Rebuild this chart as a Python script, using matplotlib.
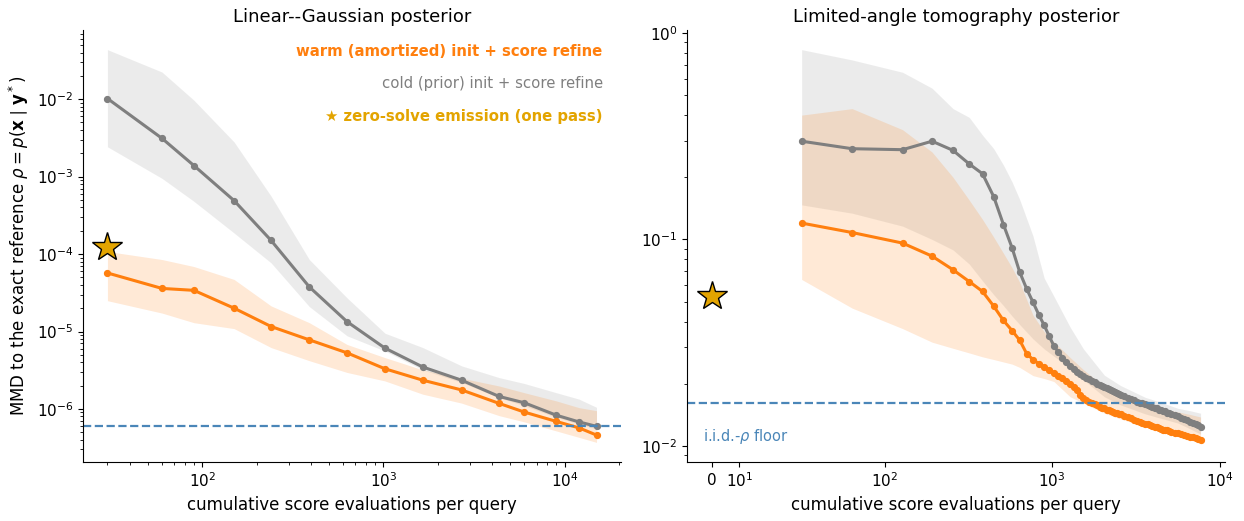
import numpy as np
import matplotlib.pyplot as plt

# ---- Linear--Gaussian panel ----
lg_evals = [30, 60, 90, 150, 240, 390, 630, 1020, 1650, 2700, 4350, 6000, 9000, 12000, 15000]
lg_warm = [5.7e-5, 3.6e-5, 3.4e-5, 2.0e-5, 1.16e-5, 7.8e-6, 5.3e-6, 3.3e-6, 2.35e-6,
           1.76e-6, 1.18e-6, 9.1e-7, 6.9e-7, 5.7e-7, 4.6e-7]
lg_warm_lo = [2.5e-5, 1.73e-5, 1.3e-5, 1.09e-5, 6.2e-6, 4.2e-6, 2.96e-6, 2.3e-6, 1.55e-6,
              1.19e-6, 8.2e-7, 6.8e-7, 5.2e-7, 4.3e-7, 3.7e-7]
lg_warm_hi = [1.08e-4, 8.5e-5, 6.9e-5, 4.7e-5, 2.14e-5, 1.3e-5, 6.8e-6, 4.6e-6, 3.2e-6,
              2.5e-6, 1.98e-6, 1.62e-6, 1.27e-6, 1.04e-6, 9.5e-7]
lg_cold = [1.02e-2, 3.12e-3, 1.39e-3, 4.9e-4, 1.5e-4, 3.77e-5, 1.34e-5, 6.1e-6, 3.48e-6,
           2.35e-6, 1.45e-6, 1.2e-6, 8.3e-7, 6.8e-7, 5.96e-7]
lg_cold_lo = [2.43e-3, 9.5e-4, 4.8e-4, 1.87e-4, 7.7e-5, 2.1e-5, 8.8e-6, 5.6e-6, 3.2e-6,
              2.2e-6, 1.4e-6, 1.1e-6, 7.8e-7, 6.4e-7, 5.5e-7]
lg_cold_hi = [4.36e-2, 2.24e-2, 9.7e-3, 2.8e-3, 5.6e-4, 8.5e-5, 2.72e-5, 9.5e-6, 6.2e-6,
              3.6e-6, 2.54e-6, 2.13e-6, 1.62e-6, 1.34e-6, 1.05e-6]
lg_zero_solve = 1.25e-4
lg_floor = 5.95e-7

# ---- limited-angle tomography panel ----
lat_evals = [32, 64, 128, 192, 256, 320, 384, 448, 512, 576, 640, 704, 768, 832, 896, 960,
             1024, 1088, 1152, 1216, 1280, 1344, 1408, 1472, 1536, 1600, 1664, 1728, 1792,
             1856, 1920, 1984, 2048, 2112, 2176, 2240, 2304, 2368, 2432, 2496, 2560,
             2688, 2816, 2944, 3072, 3200, 3328, 3456, 3584, 3712, 3840, 3968, 4096, 4224,
             4352, 4480, 4608, 4736, 4864, 4992, 5120,
             5376, 5632, 5888, 6144, 6400, 6656, 6912, 7168, 7424, 7680]
lat_warm = [0.120, 0.108, 0.096, 0.083, 0.0713, 0.0625, 0.0560, 0.0475, 0.0405, 0.0362,
            0.0325, 0.0280, 0.0262, 0.0250, 0.0241, 0.0233, 0.0226, 0.0219, 0.0213, 0.0207,
            0.0200, 0.0193, 0.0186, 0.0177, 0.0171, 0.0167, 0.0164, 0.0161, 0.0159, 0.0157,
            0.0155, 0.0153, 0.0152, 0.0150, 0.0149, 0.0148, 0.0146, 0.0145, 0.0144, 0.0143,
            0.0142, 0.0140, 0.0138, 0.0136, 0.0134, 0.0132, 0.0130, 0.0129, 0.0128, 0.0127,
            0.0126, 0.0125, 0.0124, 0.0123, 0.0122, 0.0121, 0.0120, 0.0119, 0.0119, 0.0118,
            0.0117, 0.0116, 0.0115, 0.0114, 0.0113, 0.0112, 0.0111, 0.0110, 0.0109, 0.0108,
            0.0107]
lat_cold = [0.299, 0.275, 0.272, 0.299, 0.270, 0.232, 0.208, 0.161, 0.118, 0.0912,
            0.0695, 0.0577, 0.0497, 0.0432, 0.0384, 0.0340, 0.0305, 0.0285, 0.0268, 0.0254,
            0.0243, 0.0236, 0.0229, 0.0223, 0.0219, 0.0214, 0.0210, 0.0206, 0.0203, 0.0200,
            0.0198, 0.0195, 0.0193, 0.0191, 0.0189, 0.0187, 0.0185, 0.0183, 0.0181, 0.0179,
            0.0177, 0.0174, 0.0171, 0.0169, 0.0167, 0.0164, 0.0162, 0.0161, 0.0159, 0.0158,
            0.0156, 0.0155, 0.0153, 0.0152, 0.0150, 0.0149, 0.0148, 0.0147, 0.0145, 0.0144,
            0.0143, 0.0141, 0.0139, 0.0137, 0.0135, 0.0133, 0.0131, 0.0129, 0.0127, 0.0126,
            0.0124]
lat_band_evals = [32, 64, 128, 192, 256, 320, 384, 448, 512, 576, 640, 768, 896, 1024,
                  1280, 1536, 2048, 2560, 3584, 4608, 5632, 6656, 7680]
lat_warm_lo = [0.064, 0.0465, 0.037, 0.0318, 0.0297, 0.0282, 0.0270, 0.0262, 0.0255, 0.0249,
               0.0240, 0.0219, 0.0212, 0.0205, 0.0173, 0.0161, 0.0144, 0.0135, 0.0124,
               0.0119, 0.0115, 0.0110, 0.0104]
lat_warm_hi = [0.40, 0.43, 0.34, 0.265, 0.20, 0.155, 0.125, 0.1025, 0.0857, 0.073, 0.062,
               0.043, 0.0357, 0.0319, 0.0268, 0.0234, 0.0193, 0.0176, 0.0157, 0.0151, 0.0146,
               0.0142, 0.0138]
lat_cold_lo = [0.147, 0.134, 0.116, 0.100, 0.089, 0.076, 0.063, 0.054, 0.0478, 0.0426,
               0.0387, 0.033, 0.0295, 0.0272, 0.0238, 0.0209, 0.0173, 0.0158, 0.0143, 0.0135,
               0.0129, 0.0121, 0.0114]
lat_cold_hi = [0.83, 0.74, 0.645, 0.54, 0.43, 0.39, 0.32, 0.275, 0.229, 0.19, 0.156, 0.104,
               0.065, 0.053, 0.0376, 0.0295, 0.022, 0.0196, 0.0172, 0.0161, 0.0152, 0.0148,
               0.0144]
lat_zero_solve = 0.053
lat_floor = 0.0162

WARM = '#ff7f0e'
COLD = '#7f7f7f'
GOLD = '#e3a400'
FLOOR = '#4a86b8'

plt.rcParams['xtick.labelsize'] = 11
plt.rcParams['ytick.labelsize'] = 11

fig, (ax1, ax2) = plt.subplots(1, 2, figsize=(12.44, 5.21), dpi=100)
fig.subplots_adjust(left=0.0667, right=0.9847, bottom=0.1132, top=0.9424, wspace=0.1227)


def draw_panel(ax, x, warm, cold, bx, wlo, whi, clo, chi, zero_x, zero_y, floor):
    ax.fill_between(bx, clo, chi, color=COLD, alpha=0.15, lw=0)
    ax.fill_between(bx, wlo, whi, color=WARM, alpha=0.17, lw=0)
    ax.plot(x, cold, '-o', color=COLD, lw=2.2, ms=4.2)
    ax.plot(x, warm, '-o', color=WARM, lw=2.2, ms=4.2)
    ax.plot([zero_x], [zero_y], marker='*', ms=22, color=GOLD, mec='black', mew=1.0,
            ls='none', zorder=5)
    ax.axhline(floor, color=FLOOR, ls='--', lw=1.6)
    ax.set_yscale('log')
    ax.spines['top'].set_visible(False)
    ax.spines['right'].set_visible(False)
    ax.set_xlabel('cumulative score evaluations per query', fontsize=12)


draw_panel(ax1, lg_evals, lg_warm, lg_cold, lg_evals, lg_warm_lo, lg_warm_hi,
           lg_cold_lo, lg_cold_hi, lg_evals[0], lg_zero_solve, lg_floor)
ax1.set_xscale('log')
ax1.set_title('Linear--Gaussian posterior', fontsize=13)
ax1.set_ylabel(r'MMD to the exact reference $\rho = p(\mathbf{x} \mid \mathbf{y}^*)$',
               fontsize=12)
ax1.text(0.966, 0.95, 'warm (amortized) init + score refine', transform=ax1.transAxes,
         ha='right', va='center', color=WARM, fontweight='bold', fontsize=10.7)
ax1.text(0.966, 0.876, 'cold (prior) init + score refine', transform=ax1.transAxes,
         ha='right', va='center', color=COLD, fontsize=10.7)
ax1.text(0.966, 0.80, '\u2605 zero-solve emission (one pass)', transform=ax1.transAxes,
         ha='right', va='center', color=GOLD, fontweight='bold', fontsize=10.7)

draw_panel(ax2, lat_evals, lat_warm, lat_cold, lat_band_evals, lat_warm_lo, lat_warm_hi,
           lat_cold_lo, lat_cold_hi, 0, lat_zero_solve, lat_floor)
ax2.set_xscale('symlog', linthresh=20, linscale=0.3)
ax2.set_xlim(-8.8, 10740)
ax2.set_title('Limited-angle tomography posterior', fontsize=13)
ax2.text(0.03, 0.06, r'i.i.d.-$\rho$ floor', transform=ax2.transAxes, ha='left',
         va='center', color=FLOOR, fontsize=10.5)

fig.savefig('out.png', dpi=100)
